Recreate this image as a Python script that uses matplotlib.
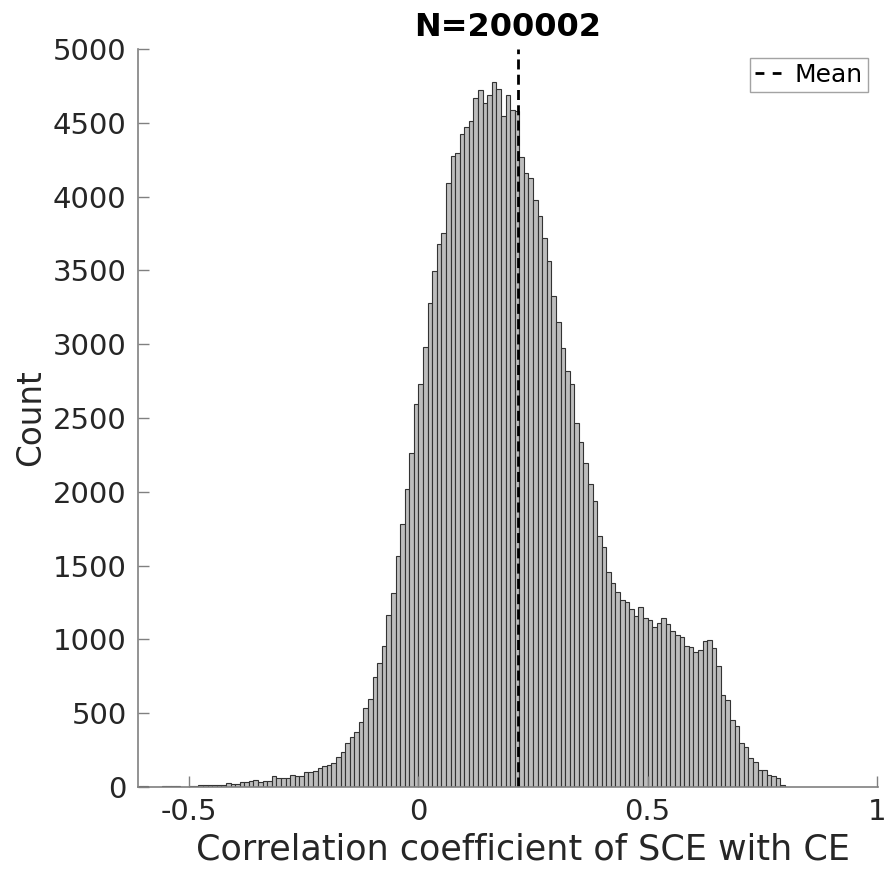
import numpy as np
import matplotlib
matplotlib.use("Agg")
import matplotlib.pyplot as plt
from matplotlib.lines import Line2D

# histogram of correlation coefficients, bin width 0.01 starting at -0.61
bin_start = -0.61
bin_width = 0.01
counts = [
    8, 6, 0, 0, 0, 5, 5, 5, 5, 0,
    0, 7, 7, 10, 14, 14, 14, 14, 15, 27,
    23, 23, 32, 32, 41, 45, 34, 38, 40, 77,
    61, 61, 63, 79, 74, 74, 102, 102, 108, 131,
    140, 151, 160, 201, 239, 295, 336, 370, 438, 535,
    594, 743, 838, 958, 1163, 1317, 1563, 1782, 2019, 2261,
    2597, 2728, 2979, 3279, 3496, 3681, 3751, 4094, 4275, 4293,
    4424, 4474, 4514, 4670, 4722, 4636, 4688, 4779, 4727, 4546,
    4688, 4587, 4580, 4266, 4158, 4124, 3977, 3870, 3717, 3562,
    3329, 3153, 2972, 2818, 2728, 2464, 2337, 2197, 2051, 1938,
    1703, 1624, 1459, 1380, 1319, 1269, 1256, 1204, 1159, 1220,
    1143, 1131, 1082, 1109, 1147, 1102, 1057, 1028, 1018, 953,
    946, 915, 930, 991, 996, 942, 818, 623, 587, 452,
    415, 298, 273, 199, 167, 115, 115, 79, 72, 61,
    11,
]
mean_r = 0.218
n_total = 200002

edges = bin_start + bin_width * np.arange(len(counts) + 1)

axcol = (0.5, 0.5, 0.5)
txtcol = (0.15, 0.15, 0.15)

fig = plt.figure(figsize=(8.91, 8.75), dpi=100)
ax = fig.add_axes([0.1545, 0.1006, 0.831, 0.8434])

ax.bar(edges[:-1], counts, width=bin_width, align="edge",
       color=(0.74, 0.74, 0.74), edgecolor=(0.2, 0.2, 0.2), linewidth=0.8)
ax.axvline(mean_r, color="black", linestyle=(0, (3.6, 1.9)), linewidth=2)

ax.set_xlim(-0.6127, 1.003)
ax.set_ylim(0, 5000)
ax.set_xticks([-0.5, 0, 0.5, 1])
ax.set_xticklabels(["-0.5", "0", "0.5", "1"])
ax.set_yticks(np.arange(0, 5001, 500))

for side in ["top", "right"]:
    ax.spines[side].set_visible(False)
for side in ["left", "bottom"]:
    ax.spines[side].set_color(axcol)
    ax.spines[side].set_linewidth(1.2)
ax.tick_params(direction="in", length=8, width=1, color=axcol,
               labelsize=21, labelcolor=txtcol, pad=8)

ax.set_xlabel("Correlation coefficient of SCE with CE", fontsize=25.2, color=txtcol)
ax.xaxis.set_label_coords(0.521, -0.062)
ax.set_ylabel("Count", fontsize=23.5, color=txtcol, labelpad=4)
ax.set_title("N=%d" % n_total, fontsize=23, fontweight="bold", pad=9)

# legend entry drawn with a shorter dash so the key shows two dashes
mean_key = Line2D([], [], color="black", linestyle=(0, (3.2, 3.0)), linewidth=2)
leg = ax.legend([mean_key], ["Mean"], loc="upper right", fontsize=18, frameon=True,
                fancybox=False, handlelength=1.05, handletextpad=0.55, borderpad=0.2,
                borderaxespad=0, bbox_to_anchor=(0.9862, 0.988))
leg.get_frame().set_edgecolor((0.55, 0.55, 0.55))
leg.get_frame().set_linewidth(1)

fig.savefig("out.png", dpi=100)
